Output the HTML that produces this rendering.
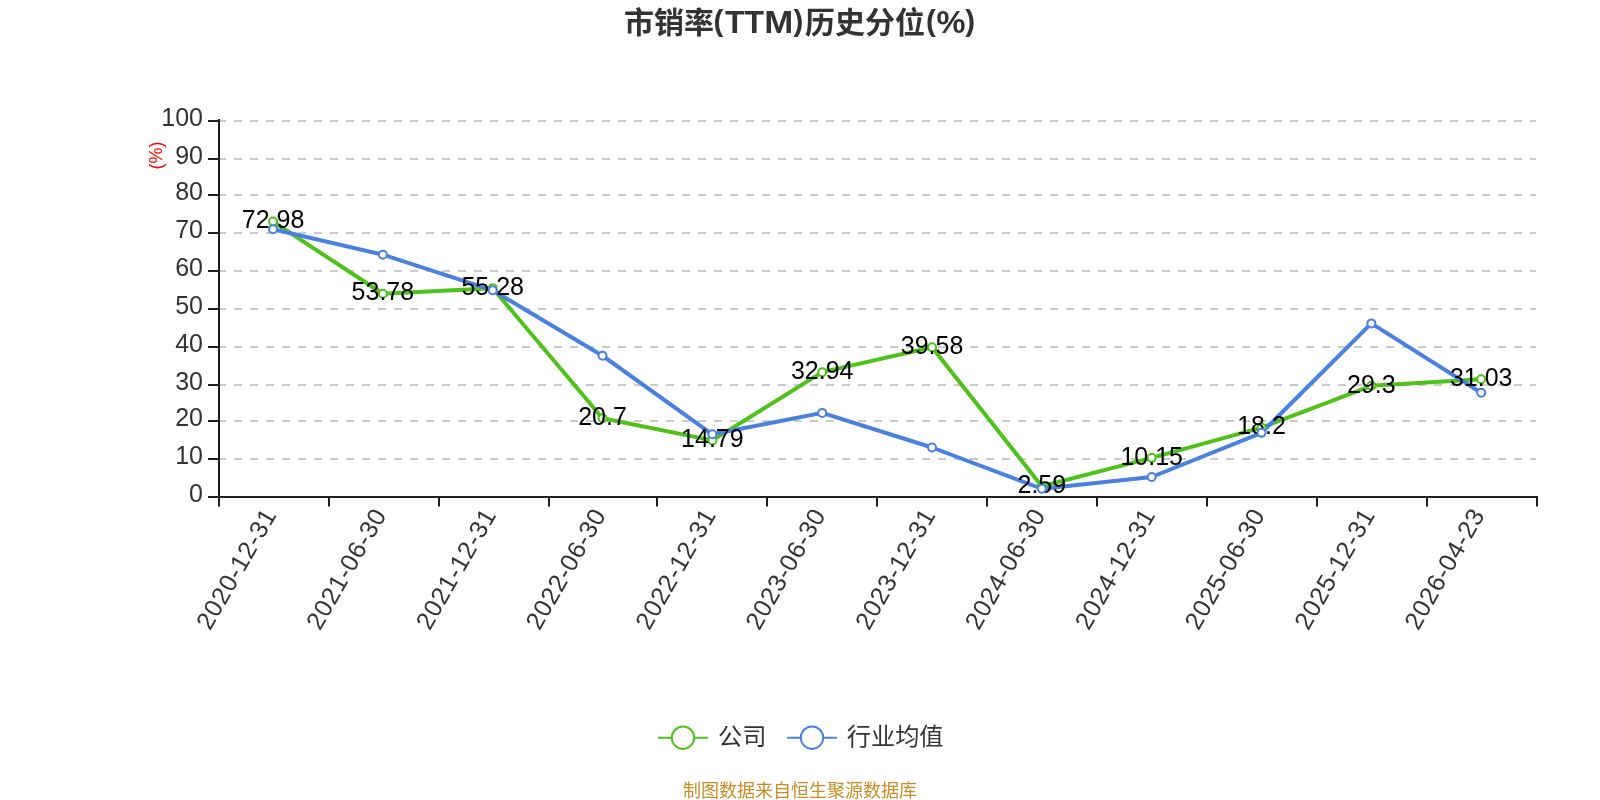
<!DOCTYPE html>
<html lang="zh-CN"><head><meta charset="utf-8"><title>市销率(TTM)历史分位(%)</title>
<style>html,body{margin:0;padding:0;background:#fff;}body{width:1600px;height:800px;overflow:hidden;}svg{display:block;will-change:transform;}text{font-family:"Liberation Sans", "Noto Sans CJK SC", sans-serif;}</style></head><body>
<svg width="1600" height="800" viewBox="0 0 1600 800">
<rect x="0" y="0" width="1600" height="800" fill="#ffffff"/>
<g font-size="30" font-weight="bold" fill="#333333">
<text x="624" y="33.4">市销率</text>
<text y="33" font-size="32"><tspan x="713.6" y="31.4" font-size="29.5">(</tspan><tspan x="725 744.4" y="33">TT</tspan><tspan x="764.2" y="33" textLength="29" lengthAdjust="spacingAndGlyphs">M</tspan><tspan x="793.6" y="31.4" font-size="29.5">)</tspan></text>
<text x="805" y="33.4">历史分位</text>
<text y="33" font-size="32"><tspan x="926" y="31.4" font-size="29.5">(</tspan><tspan x="936.5" y="33" textLength="29" lengthAdjust="spacingAndGlyphs">%</tspan><tspan x="965.3" y="31.4" font-size="29.5">)</tspan></text>
</g>
<g stroke="#cccccc" stroke-width="2" stroke-dasharray="8 8" fill="none">
<line x1="218" y1="459" x2="1536" y2="459"/>
<line x1="218" y1="421" x2="1536" y2="421"/>
<line x1="218" y1="385" x2="1536" y2="385"/>
<line x1="218" y1="347" x2="1536" y2="347"/>
<line x1="218" y1="309" x2="1536" y2="309"/>
<line x1="218" y1="271" x2="1536" y2="271"/>
<line x1="218" y1="233" x2="1536" y2="233"/>
<line x1="218" y1="195" x2="1536" y2="195"/>
<line x1="218" y1="159" x2="1536" y2="159"/>
<line x1="218" y1="121" x2="1536" y2="121"/>
</g>
<g stroke="#1f1f1f" stroke-width="2" fill="none">
<line x1="219" y1="119" x2="219" y2="498"/>
<line x1="218" y1="497" x2="1538" y2="497"/>
<line x1="208" y1="121" x2="219" y2="121"/>
<line x1="208" y1="159" x2="219" y2="159"/>
<line x1="208" y1="195" x2="219" y2="195"/>
<line x1="208" y1="233" x2="219" y2="233"/>
<line x1="208" y1="271" x2="219" y2="271"/>
<line x1="208" y1="309" x2="219" y2="309"/>
<line x1="208" y1="347" x2="219" y2="347"/>
<line x1="208" y1="385" x2="219" y2="385"/>
<line x1="208" y1="421" x2="219" y2="421"/>
<line x1="208" y1="459" x2="219" y2="459"/>
<line x1="208" y1="497" x2="219" y2="497"/>
<line x1="219" y1="497" x2="219" y2="506.6"/>
<line x1="329" y1="497" x2="329" y2="506.6"/>
<line x1="439" y1="497" x2="439" y2="506.6"/>
<line x1="549" y1="497" x2="549" y2="506.6"/>
<line x1="657" y1="497" x2="657" y2="506.6"/>
<line x1="767" y1="497" x2="767" y2="506.6"/>
<line x1="877" y1="497" x2="877" y2="506.6"/>
<line x1="987" y1="497" x2="987" y2="506.6"/>
<line x1="1097" y1="497" x2="1097" y2="506.6"/>
<line x1="1207" y1="497" x2="1207" y2="506.6"/>
<line x1="1317" y1="497" x2="1317" y2="506.6"/>
<line x1="1427" y1="497" x2="1427" y2="506.6"/>
<line x1="1537" y1="497" x2="1537" y2="506.6"/>
</g>
<g font-size="25" fill="#333333" text-anchor="end">
<text x="203" y="125.9">100</text>
<text x="203" y="163.9">90</text>
<text x="203" y="199.9">80</text>
<text x="203" y="237.9">70</text>
<text x="203" y="275.9">60</text>
<text x="203" y="313.9">50</text>
<text x="203" y="351.9">40</text>
<text x="203" y="389.9">30</text>
<text x="203" y="425.9">20</text>
<text x="203" y="463.9">10</text>
<text x="203" y="501.9">0</text>
</g>
<text font-size="18" fill="#ff0000" text-anchor="middle" transform="translate(162,155.6) rotate(-90)">(%)</text>
<g font-size="25" fill="#333333" text-anchor="end">
<text transform="translate(277.05,515.20) rotate(-60)" x="0" y="0" textLength="134" lengthAdjust="spacing">2020-12-31</text>
<text transform="translate(386.88,515.20) rotate(-60)" x="0" y="0" textLength="134" lengthAdjust="spacing">2021-06-30</text>
<text transform="translate(496.71,515.20) rotate(-60)" x="0" y="0" textLength="134" lengthAdjust="spacing">2021-12-31</text>
<text transform="translate(606.54,515.20) rotate(-60)" x="0" y="0" textLength="134" lengthAdjust="spacing">2022-06-30</text>
<text transform="translate(716.37,515.20) rotate(-60)" x="0" y="0" textLength="134" lengthAdjust="spacing">2022-12-31</text>
<text transform="translate(826.20,515.20) rotate(-60)" x="0" y="0" textLength="134" lengthAdjust="spacing">2023-06-30</text>
<text transform="translate(936.03,515.20) rotate(-60)" x="0" y="0" textLength="134" lengthAdjust="spacing">2023-12-31</text>
<text transform="translate(1045.86,515.20) rotate(-60)" x="0" y="0" textLength="134" lengthAdjust="spacing">2024-06-30</text>
<text transform="translate(1155.69,515.20) rotate(-60)" x="0" y="0" textLength="134" lengthAdjust="spacing">2024-12-31</text>
<text transform="translate(1265.52,515.20) rotate(-60)" x="0" y="0" textLength="134" lengthAdjust="spacing">2025-06-30</text>
<text transform="translate(1375.35,515.20) rotate(-60)" x="0" y="0" textLength="134" lengthAdjust="spacing">2025-12-31</text>
<text transform="translate(1485.18,515.20) rotate(-60)" x="0" y="0" textLength="134" lengthAdjust="spacing">2026-04-23</text>
</g>
<polyline points="273.05,221.60 382.88,293.79 492.71,288.15 602.54,418.17 712.37,440.39 822.20,372.15 932.03,347.18 1041.86,486.26 1151.69,457.84 1261.52,427.57 1371.35,385.83 1481.18,379.33" fill="none" stroke="#4ec21a" stroke-width="4" stroke-linejoin="bevel"/>
<polyline points="273.05,229.25 382.88,254.70 492.71,290.30 602.54,355.75 712.37,434.30 822.20,412.90 932.03,447.50 1041.86,488.75 1151.69,477.00 1261.52,432.85 1371.35,323.40 1481.18,392.80" fill="none" stroke="#4a80e0" stroke-width="4" stroke-linejoin="bevel"/>
<g fill="#ffffff" stroke="#4ec21a" stroke-width="2">
<circle cx="273.05" cy="221.60" r="4"/>
<circle cx="382.88" cy="293.79" r="4"/>
<circle cx="492.71" cy="288.15" r="4"/>
<circle cx="602.54" cy="418.17" r="4"/>
<circle cx="712.37" cy="440.39" r="4"/>
<circle cx="822.20" cy="372.15" r="4"/>
<circle cx="932.03" cy="347.18" r="4"/>
<circle cx="1041.86" cy="486.26" r="4"/>
<circle cx="1151.69" cy="457.84" r="4"/>
<circle cx="1261.52" cy="427.57" r="4"/>
<circle cx="1371.35" cy="385.83" r="4"/>
<circle cx="1481.18" cy="379.33" r="4"/>
</g>
<g font-size="25" fill="#000000" text-anchor="middle">
<text x="273.05" y="228.30">72.98</text>
<text x="382.88" y="300.49">53.78</text>
<text x="492.71" y="294.85">55.28</text>
<text x="602.54" y="424.87">20.7</text>
<text x="712.37" y="447.09">14.79</text>
<text x="822.20" y="378.85">32.94</text>
<text x="932.03" y="353.88">39.58</text>
<text x="1041.86" y="492.96">2.59</text>
<text x="1151.69" y="464.54">10.15</text>
<text x="1261.52" y="434.27">18.2</text>
<text x="1371.35" y="392.53">29.3</text>
<text x="1481.18" y="386.03">31.03</text>
</g>
<g fill="#ffffff" stroke="#4a80e0" stroke-width="2">
<circle cx="273.05" cy="229.25" r="4"/>
<circle cx="382.88" cy="254.70" r="4"/>
<circle cx="492.71" cy="290.30" r="4"/>
<circle cx="602.54" cy="355.75" r="4"/>
<circle cx="712.37" cy="434.30" r="4"/>
<circle cx="822.20" cy="412.90" r="4"/>
<circle cx="932.03" cy="447.50" r="4"/>
<circle cx="1041.86" cy="488.75" r="4"/>
<circle cx="1151.69" cy="477.00" r="4"/>
<circle cx="1261.52" cy="432.85" r="4"/>
<circle cx="1371.35" cy="323.40" r="4"/>
<circle cx="1481.18" cy="392.80" r="4"/>
</g>
<line x1="658" y1="737.7" x2="708" y2="737.7" stroke="#4ec21a" stroke-width="2"/>
<circle cx="683" cy="737.7" r="11.2" fill="#ffffff" stroke="#4ec21a" stroke-width="2"/>
<text x="718" y="745" font-size="24.2" fill="#333333">公司</text>
<line x1="787" y1="737.7" x2="837" y2="737.7" stroke="#4a80e0" stroke-width="2"/>
<circle cx="812" cy="737.7" r="11.2" fill="#ffffff" stroke="#4a80e0" stroke-width="2"/>
<text x="846.8" y="745" font-size="24.2" fill="#333333">行业均值</text>
<text x="800" y="796.7" font-size="18" fill="#c48e28" text-anchor="middle">制图数据来自恒生聚源数据库</text>
</svg></body></html>
